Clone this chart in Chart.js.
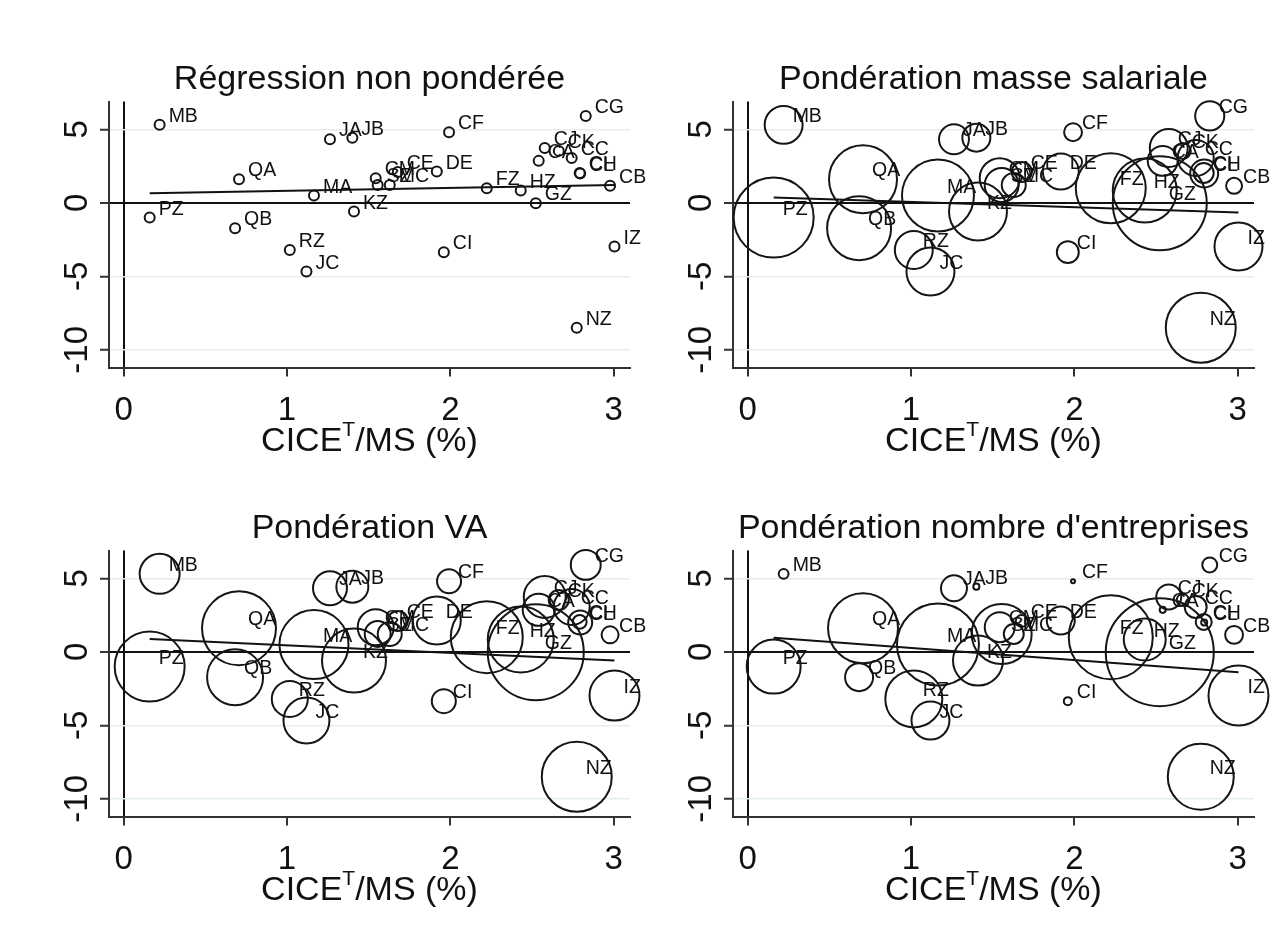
<!DOCTYPE html>
<html>
<head>
<meta charset="utf-8">
<script src="https://cdn.jsdelivr.net/npm/chart.js@4.4.1/dist/chart.umd.min.js"></script>
<style>
  html, body { margin: 0; padding: 0; background: #fff; }
  #wrap { position: relative; width: 1285px; height: 929px; overflow: hidden; background: #fff; }
  canvas { position: absolute; }
</style>
</head>
<body>
<div id="wrap">
  <canvas id="p1" width="661" height="464" style="left:0px;top:0px"></canvas>
  <canvas id="p2" width="661" height="464" style="left:624px;top:0px"></canvas>
  <canvas id="p3" width="661" height="464" style="left:0px;top:449px"></canvas>
  <canvas id="p4" width="661" height="464" style="left:624px;top:449px"></canvas>
</div>
<script>
// secteurs (A38) et valeurs
const categories = ['MB','QA','PZ','QB','RZ','JC','MA','JA','JB','KZ','CM','SZ','MC','CE','DE',
                    'CF','CI','FZ','HZ','GZ','CA','CJ','CK','CC','CH','CL','CG','NZ','CB','IZ'];
const cice = [0.220, 0.706, 0.159, 0.682, 1.017, 1.119, 1.165, 1.263, 1.400, 1.410, 1.543, 1.555, 1.629, 1.678, 1.917,
              1.992, 1.960, 2.223, 2.431, 2.523, 2.541, 2.578, 2.664, 2.743, 2.792, 2.795, 2.829, 2.774, 2.978, 3.005];
const outcome = [5.31, 1.61, -1.00, -1.72, -3.20, -4.67, 0.50, 4.33, 4.44, -0.59, 1.68, 1.22, 1.22, 2.11, 2.13,
                 4.81, -3.35, 1.00, 0.84, -0.02, 2.86, 3.74, 3.54, 3.06, 2.04, 2.00, 5.92, -8.50, 1.16, -2.97];

// poids (masse salariale, valeur ajoutee, nombre d'entreprises)
const weightMS = [90, 289, 400, 256, 90, 144, 324, 56, 49, 210, 100, 72, 36, 25, 81,
                  20, 30, 306, 256, 552, 56, 90, 16, 81, 25, 49, 53, 306, 16, 144];
const weightVA = [100, 342, 306, 196, 81, 132, 298, 72, 64, 256, 81, 42, 36, 25, 144,
                  36, 36, 324, 272, 576, 64, 110, 25, 81, 12, 36, 56, 306, 18, 156];
const weightCount = [6, 306, 182, 49, 203, 90, 420, 42, 2.3, 156, 56, 225, 25, 9, 49,
                     1, 4, 441, 110, 729, 2.3, 39, 9, 30, 16, 2.3, 14, 272, 20, 225];

// droites de regression : valeur ajustee au min et au max de x
const fitUnweighted = [0.66, 1.22];
const fitMS = [0.36, -0.66];
const fitVA = [0.88, -0.59];
const fitCount = [0.97, -1.38];

const xTicks = [0, 1, 2, 3];
const yTicks = [5, 0, -5, -10];
const panelTitles = ['Régression non pondérée', 'Pondération masse salariale',
                     'Pondération VA', "Pondération nombre d'entreprises"];

const FONT = '"Liberation Sans", Arial, sans-serif';
const INK = '#111';

const textPlugin = {
  id: 'stataText',
  afterDatasetsDraw(chart) {
    const ctx = chart.ctx;
    const area = chart.chartArea;
    const xs = chart.scales.x, ys = chart.scales.y;
    const cx = (area.left + area.right) / 2;
    ctx.save();
    ctx.fillStyle = INK;

    // etiquettes des points
    ctx.font = '19.5px ' + FONT;
    ctx.textAlign = 'left';
    ctx.textBaseline = 'alphabetic';
    categories.forEach(function (c, i) {
      ctx.fillText(c, xs.getPixelForValue(cice[i]) + 9, ys.getPixelForValue(outcome[i]) - 3);
    });

    // titre
    ctx.font = '34px ' + FONT;
    ctx.textAlign = 'center';
    ctx.fillText(chart.options.plugins.stataText.title, cx, 89);

    // graduations x
    ctx.font = '33px ' + FONT;
    xTicks.forEach(function (v) {
      ctx.fillText(String(v), xs.getPixelForValue(v), 420);
    });

    // graduations y (verticales)
    yTicks.forEach(function (v) {
      ctx.save();
      ctx.translate(87, ys.getPixelForValue(v));
      ctx.rotate(-Math.PI / 2);
      ctx.fillText(String(v), 0, 0);
      ctx.restore();
    });

    // titre de l'axe x avec exposant
    const parts = [['CICE', '34px ' + FONT, 0], ['T', '21px ' + FONT, -15], ['/MS (%)', '34px ' + FONT, 0]];
    let total = 0;
    parts.forEach(function (p) { ctx.font = p[1]; p.push(ctx.measureText(p[0]).width); total += p[3]; });
    let px = cx - total / 2;
    ctx.textAlign = 'left';
    parts.forEach(function (p) {
      ctx.font = p[1];
      ctx.fillText(p[0], px, 451 + p[2]);
      px += p[3];
    });
    ctx.restore();
  }
};

function makePanel(id, title, weights, fit) {
  const pts = cice.map(function (v, i) {
    return { x: v, y: outcome[i], r: weights ? 2 * Math.sqrt(weights[i]) : 5 };
  });
  const xmin = Math.min.apply(null, cice), xmax = Math.max.apply(null, cice);
  const canvas = document.getElementById(id);
  return new Chart(canvas, {
    type: 'bubble',
    data: {
      datasets: [{
        data: pts,
        backgroundColor: 'rgba(0,0,0,0)',
        borderColor: '#151515',
        borderWidth: 2,
        clip: false
      }, {
        type: 'line',
        data: [{ x: xmin, y: fit[0] }, { x: xmax, y: fit[1] }],
        borderColor: INK,
        borderWidth: 2,
        pointRadius: 0,
        fill: false,
        clip: false
      }]
    },
    options: {
      responsive: false,
      animation: false,
      events: [],
      layout: { padding: { left: 0, top: 101.5, right: 31, bottom: 36.5 }, autoPadding: false },
      plugins: {
        legend: { display: false },
        tooltip: { enabled: false },
        stataText: { title: title }
      },
      scales: {
        x: {
          type: 'linear', min: -0.09, max: 3.1,
          afterBuildTicks: function (s) { s.ticks = xTicks.map(function (v) { return { value: v }; }); },
          afterFit: function (s) { s.height = 60; },
          ticks: { display: false },
          border: { display: true, color: '#333', width: 2 },
          grid: {
            drawOnChartArea: true,
            color: function (c) { return c.tick && c.tick.value === 0 ? INK : 'rgba(0,0,0,0)'; },
            lineWidth: 2,
            tickColor: '#333', tickWidth: 2, tickLength: 9
          }
        },
        y: {
          type: 'linear', min: -11.2, max: 6.9,
          afterBuildTicks: function (s) { s.ticks = yTicks.map(function (v) { return { value: v }; }); },
          afterFit: function (s) { s.width = 109; },
          ticks: { display: false },
          border: { display: true, color: '#333', width: 2 },
          grid: {
            drawOnChartArea: true,
            color: function (c) { return c.tick && c.tick.value === 0 ? INK : '#e4edf0'; },
            lineWidth: function (c) { return c.tick && c.tick.value === 0 ? 2 : 1.5; },
            tickColor: '#333', tickWidth: 2, tickLength: 9
          }
        }
      }
    },
    plugins: [textPlugin]
  });
}

makePanel('p1', panelTitles[0], null, fitUnweighted);
makePanel('p2', panelTitles[1], weightMS, fitMS);
makePanel('p3', panelTitles[2], weightVA, fitVA);
makePanel('p4', panelTitles[3], weightCount, fitCount);
</script>
</body>
</html>
